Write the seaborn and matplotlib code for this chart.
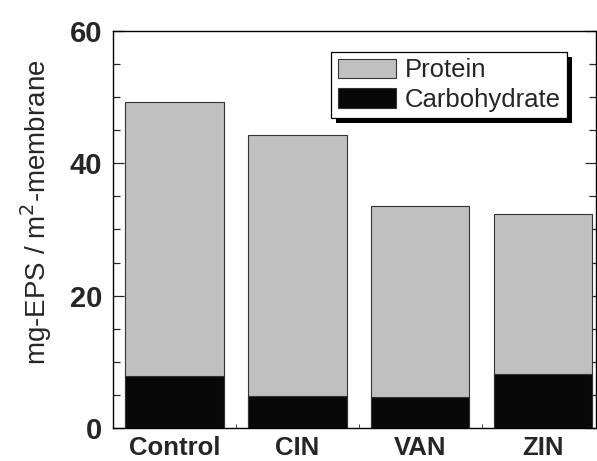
import pandas as pd
import numpy as np
import seaborn as sns
import matplotlib.pyplot as plt
from matplotlib.patches import Patch, Rectangle
from matplotlib.ticker import MultipleLocator

sns.set_style("ticks")
plt.rcParams["font.family"] = ["Liberation Sans", "DejaVu Sans"]
plt.rcParams["xtick.direction"] = "in"
plt.rcParams["ytick.direction"] = "in"

# data
groups = ["Control", "CIN", "VAN", "ZIN"]
carbohydrate = [7.8, 4.9, 4.7, 8.2]
protein = [41.5, 39.4, 28.9, 24.2]

df = pd.DataFrame({"Group": groups,
                   "Carbohydrate": carbohydrate,
                   "Protein": protein})
df["Total"] = df["Carbohydrate"] + df["Protein"]

fig = plt.figure(figsize=(5.97, 4.61), dpi=100, facecolor="w")
ax = fig.add_axes([113/597, 33/461, 483/597, 397/461])

grey = "#c0c0c0"
sns.barplot(data=df, x="Group", y="Total", color=grey, saturation=1,
            edgecolor="#333333", linewidth=0.8, width=0.8, ax=ax)
sns.barplot(data=df, x="Group", y="Carbohydrate", color="#080808", saturation=1,
            edgecolor="#333333", linewidth=0.8, width=0.8, ax=ax)

ax.set_xlim(-0.5, 3.43)
ax.set_ylim(0, 60)
ax.yaxis.set_major_locator(MultipleLocator(20))
ax.yaxis.set_minor_locator(MultipleLocator(5))
ax.set_xticks([0.5, 1.5, 2.5], minor=True)
ax.tick_params(axis="y", which="both", left=True, right=True, width=0.9, pad=8)
ax.tick_params(axis="y", which="major", length=8)
ax.tick_params(axis="y", which="minor", length=5)
ax.tick_params(axis="x", which="major", length=0, pad=6)
ax.tick_params(axis="x", which="minor", length=3)
for lab in ax.get_yticklabels():
    lab.set_fontsize(21)
    lab.set_fontweight("bold")
for lab in ax.get_xticklabels():
    lab.set_fontsize(18.5)
    lab.set_fontweight("bold")
for s in ax.spines.values():
    s.set_visible(True)
    s.set_linewidth(1.0)
    s.set_color("black")

ax.set_xlabel("")
ax.set_ylabel("mg-EPS / m$^{2}$-membrane", fontsize=20)
ax.yaxis.set_label_coords(-0.123, 0.544)

handles = [Patch(facecolor=grey, edgecolor="#333333", lw=0.8, label="Protein"),
           Patch(facecolor="#080808", edgecolor="#333333", lw=0.8, label="Carbohydrate")]
leg = ax.legend(handles=handles, loc="upper right", bbox_to_anchor=(0.94, 0.947),
                borderaxespad=0, fancybox=False, framealpha=1, edgecolor="black",
                fontsize=18.5, handlelength=2.25, handleheight=0.8, handletextpad=0.35,
                borderpad=0.25, labelspacing=0.2)
leg.get_frame().set_linewidth(0.9)

# drop shadow like the original legend
fig.canvas.draw()
bb = leg.get_window_extent()
ax.add_patch(Rectangle((bb.x0 + 5, bb.y0 - 5), bb.width, bb.height, transform=None,
                       facecolor="black", edgecolor="none", zorder=4.5, clip_on=False))

fig.savefig("out.png", dpi=100)
